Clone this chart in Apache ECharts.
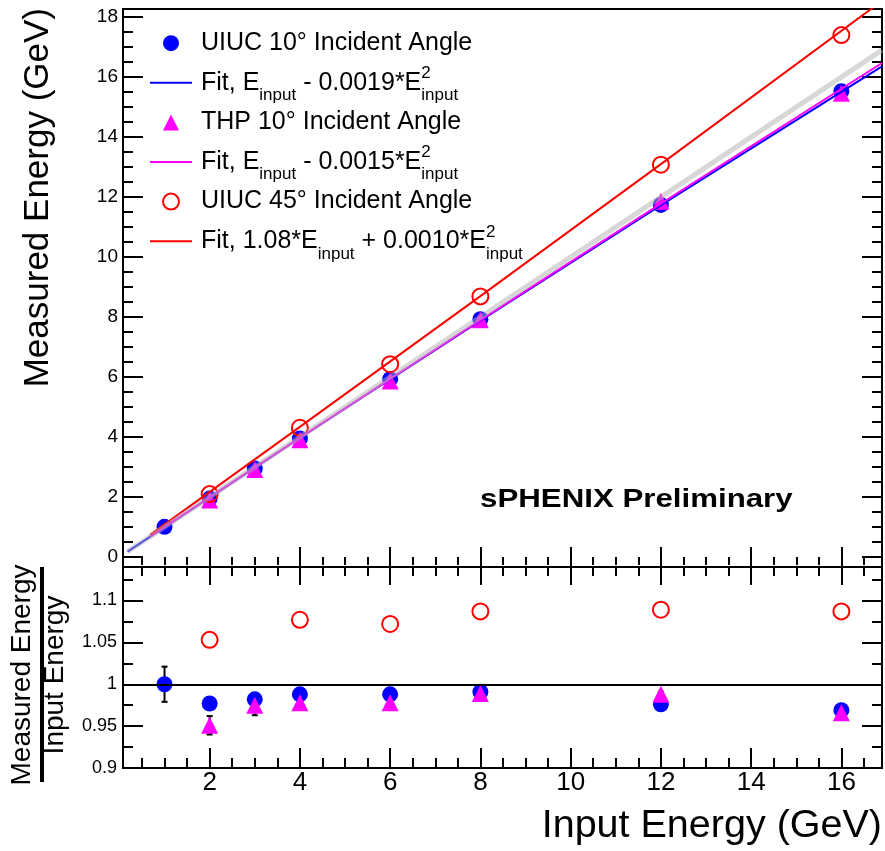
<!DOCTYPE html>
<html><head><meta charset="utf-8">
<script src="https://cdn.jsdelivr.net/npm/echarts@6/dist/echarts.min.js"></script>
<style>html,body{margin:0;padding:0;background:#fff}#c{width:885px;height:851px}</style>
</head><body><div id="c"></div>
<script>
// ---------------- data ----------------
const uiuc10Energies = [1, 2, 3, 4, 6, 8, 12, 16];
const uiuc10Measured = [1.01, 1.95, 2.95, 3.95, 5.93, 7.93, 11.74, 15.53];
const thpEnergies = [2, 3, 4, 6, 8, 12, 16];
const thpMeasured = [1.90, 2.92, 3.91, 5.87, 7.91, 11.86, 15.46];
const uiuc45Energies = [2, 4, 6, 8, 12, 16];
const uiuc45Measured = [2.10, 4.31, 6.43, 8.69, 13.08, 17.40];

const uiuc10Ratio = [1.000, 0.977, 0.982, 0.988, 0.988, 0.991, 0.976, 0.969];
const uiuc10RatioErr = [0.021, 0.004, 0.004, 0.003, 0.003, 0.003, 0.003, 0.003];
const thpRatio = [0.951, 0.975, 0.978, 0.978, 0.989, 0.988, 0.966];
const thpRatioErr = [0.011, 0.012, 0.004, 0.003, 0.003, 0.003, 0.003];
const uiuc45Ratio = [1.053, 1.077, 1.072, 1.087, 1.089, 1.087];

// fit curves and the diagonal
const fit10X = [0.18, 4, 8, 12, 16.9];
const fit10Y = [0.18, 3.97, 7.88, 11.73, 16.36];
const fitThpX = [0.68, 4, 8, 12, 16.9];
const fitThpY = [0.68, 3.98, 7.90, 11.78, 16.47];
const fit45X = [0.68, 4, 8, 12, 16.9];
const fit45Y = [0.74, 4.34, 8.70, 13.10, 18.54];
const diagX = [0.18, 16.9];
const diagY = [0.18, 16.9];
const unityRatio = 1;

// axis ranges
const X_MIN = 0.08, X_MAX = 16.9;
const Y1_MIN = -0.33, Y1_MAX = 18.27;
const Y2_MIN = 0.9, Y2_MAX = 1.14;

// names
const N_U10 = 'UIUC 10° Incident Angle';
const N_F10 = 'Fit, E_input - 0.0019*E_input^2';
const N_THP = 'THP 10° Incident Angle';
const N_FTHP = 'Fit, E_input - 0.0015*E_input^2';
const N_U45 = 'UIUC 45° Incident Angle';
const N_F45 = 'Fit, 1.08*E_input + 0.0010*E_input^2';

const legendLabels = {};
legendLabels[N_U10] = '{p|UIUC 10° Incident Angle}';
legendLabels[N_F10] = '{p|Fit, E}{s|input}{m| - 0.0019*E}{u|2}{s|input}';
legendLabels[N_THP] = '{p|THP 10° Incident Angle}';
legendLabels[N_FTHP] = '{p|Fit, E}{s|input}{m| - 0.0015*E}{u|2}{s|input}';
legendLabels[N_U45] = '{p|UIUC 45° Incident Angle}';
legendLabels[N_F45] = '{p|Fit, 1.08*E}{s|input}{m| + 0.0010*E}{u|2}{s|input}';

// ---------------- helpers ----------------
const FONT = '"Liberation Sans", Arial, Helvetica, sans-serif';
const pts = (xs, ys) => xs.map((x, i) => [x, ys[i]]);
const errPts = (xs, ys, es) => xs.map((x, i) => [x, ys[i] - es[i], ys[i] + es[i]]);

function tick(len, show) {
  return {show: show !== false, inside: true, length: len, lineStyle: {color: '#000', width: 2}};
}
function baseAxis(extra) {
  return Object.assign({
    type: 'value', axisLine: {show: false}, splitLine: {show: false},
    axisLabel: {show: false}, nameMoveOverlap: false
  }, extra);
}
function xMajor(grid, pos, len, labels) {
  return baseAxis({
    gridIndex: grid, position: pos, min: X_MIN, max: X_MAX,
    splitNumber: 8, minInterval: 2, maxInterval: 2,
    axisTick: tick(len),
    axisLabel: labels ? {show: true, margin: 2, fontSize: 26, color: '#000', fontFamily: FONT,
      showMinLabel: false, showMaxLabel: false} : {show: false}
  });
}
function xMinor(grid, pos, len) {
  return baseAxis({
    gridIndex: grid, position: pos, min: X_MIN, max: X_MAX,
    splitNumber: 34, minInterval: 0.5, maxInterval: 0.5,
    axisTick: tick(len, len > 0)
  });
}

const gridBox1 = {left: 123, right: 3, top: 9, height: 558};
const gridBox2 = {left: 123, right: 3, top: 567, height: 201};

function errRender(params, api) {
  const x = api.value(0), lo = api.value(1), hi = api.value(2);
  const a = api.coord([x, hi]), b = api.coord([x, lo]);
  const cap = 3;
  const st = {stroke: '#000', lineWidth: 2};
  return {type: 'group', children: [
    {type: 'line', shape: {x1: a[0], y1: a[1], x2: b[0], y2: b[1]}, style: st},
    {type: 'line', shape: {x1: a[0] - cap, y1: a[1], x2: a[0] + cap, y2: a[1]}, style: st},
    {type: 'line', shape: {x1: b[0] - cap, y1: b[1], x2: b[0] + cap, y2: b[1]}, style: st}
  ]};
}

const RICH = {
  p: {fontSize: 25, fontFamily: FONT, color: '#000', lineHeight: 39.3, padding: [0, 0, 0, 4]},
  m: {fontSize: 25, fontFamily: FONT, color: '#000', lineHeight: 39.3},
  s: {fontSize: 17, fontFamily: FONT, color: '#000', lineHeight: 39.3, padding: [25.6, 0, 0, 0]},
  u: {fontSize: 17, fontFamily: FONT, color: '#000', lineHeight: 39.3, padding: [0, 0, 18.4, 0], width: 0}
};

const LINE_ICON = 'path://M0,0H42V2H0Z';
const TRI_ICON = 'path://M8,0L16,16L0,16Z';

const chart = echarts.init(document.getElementById('c'), null, {renderer: 'canvas'});
const option = {
  animation: false,
  backgroundColor: '#fff',
  grid: [
    Object.assign({show: true, borderColor: '#000', borderWidth: 2, backgroundColor: 'rgba(0,0,0,0)', containLabel: false, outerBoundsMode: 'none'}, gridBox1),
    Object.assign({show: false, containLabel: false, outerBoundsMode: 'none'}, gridBox1),
    Object.assign({show: true, borderColor: '#000', borderWidth: 2, backgroundColor: 'rgba(0,0,0,0)', containLabel: false, outerBoundsMode: 'none'}, gridBox2),
    Object.assign({show: false, containLabel: false, outerBoundsMode: 'none'}, gridBox2)
  ],
  xAxis: [
    xMajor(0, 'bottom', 10, false),
    xMajor(0, 'top', 16, false),
    xMinor(1, 'bottom', 0),
    xMinor(1, 'top', 8),
    Object.assign(xMajor(2, 'bottom', 20, true), {
      name: 'Input Energy (GeV)', nameLocation: 'end', nameGap: 0,
      nameTextStyle: {fontSize: 39.5, fontFamily: FONT, color: '#000', align: 'right', verticalAlign: 'top', padding: [38, 0, 0, 0]}
    }),
    xMajor(2, 'top', 18, false),
    xMinor(3, 'bottom', 10),
    xMinor(3, 'top', 9)
  ],
  yAxis: [
    baseAxis({gridIndex: 0, position: 'left', min: Y1_MIN, max: Y1_MAX, splitNumber: 9, minInterval: 2, maxInterval: 2,
      axisTick: tick(20),
      axisLabel: {show: true, margin: 5, fontSize: 19, color: '#000', fontFamily: FONT, showMinLabel: false, showMaxLabel: false},
      name: 'Measured Energy (GeV)', nameLocation: 'end', nameGap: 1, nameRotate: 90,
      nameTextStyle: {fontSize: 35, fontFamily: FONT, color: '#000', align: 'right', verticalAlign: 'bottom', padding: [0, 0, 67.6, 0]}
    }),
    baseAxis({gridIndex: 0, position: 'right', min: Y1_MIN, max: Y1_MAX, splitNumber: 9, minInterval: 2, maxInterval: 2, axisTick: tick(20)}),
    baseAxis({gridIndex: 1, position: 'left', min: Y1_MIN, max: Y1_MAX, splitNumber: 37, minInterval: 0.5, maxInterval: 0.5, axisTick: tick(10)}),
    baseAxis({gridIndex: 1, position: 'right', min: Y1_MIN, max: Y1_MAX, splitNumber: 37, minInterval: 0.5, maxInterval: 0.5, axisTick: tick(10)}),
    baseAxis({gridIndex: 2, position: 'left', min: Y2_MIN, max: Y2_MAX, interval: 0.05,
      axisTick: tick(20),
      axisLabel: {show: true, margin: 6, fontSize: 18, color: '#000', fontFamily: FONT, showMinLabel: true, showMaxLabel: false}
    }),
    baseAxis({gridIndex: 2, position: 'right', min: Y2_MIN, max: Y2_MAX, interval: 0.05, axisTick: tick(20)}),
    baseAxis({gridIndex: 3, position: 'left', min: Y2_MIN, max: Y2_MAX, interval: 0.025, axisTick: tick(10)}),
    baseAxis({gridIndex: 3, position: 'right', min: Y2_MIN, max: Y2_MAX, interval: 0.025, axisTick: tick(10)})
  ],
  legend: {
    orient: 'vertical', left: 150, top: 30.7, padding: 0, itemGap: 5.8,
    itemWidth: 42, itemHeight: 16, selectedMode: false, symbolKeepAspect: true,
    data: [
      {name: N_U10},
      {name: N_F10, icon: LINE_ICON, itemStyle: {color: '#0000ff', borderWidth: 0}},
      {name: N_THP, icon: TRI_ICON, itemStyle: {color: '#ff00ff', borderWidth: 0}},
      {name: N_FTHP, icon: LINE_ICON, itemStyle: {color: '#ff00ff', borderWidth: 0}},
      {name: N_U45},
      {name: N_F45, icon: LINE_ICON, itemStyle: {color: '#ff0000', borderWidth: 0}}
    ],
    formatter: name => legendLabels[name],
    textStyle: {color: '#000', fontFamily: FONT, fontSize: 25, rich: RICH}
  },
  graphic: [
    {type: 'text', x: 480, y: 500, scaleX: 1.25, z: 100,
      style: {text: 'sPHENIX Preliminary', font: 'bold 25px ' + FONT, fill: '#000', align: 'left', verticalAlign: 'middle'}},
    {type: 'text', x: 22.5, y: 675, rotation: Math.PI / 2, z: 100,
      style: {text: 'Measured Energy', font: '28px ' + FONT, fill: '#000', align: 'center', verticalAlign: 'middle'}},
    {type: 'text', x: 55, y: 675, rotation: Math.PI / 2, z: 100,
      style: {text: 'Input Energy', font: '28px ' + FONT, fill: '#000', align: 'center', verticalAlign: 'middle'}},
    {type: 'rect', shape: {x: 40, y: 567, width: 4, height: 215}, style: {fill: '#000'}, z: 100}
  ],
  series: [
    {name: N_F10, type: 'line', xAxisIndex: 0, yAxisIndex: 0, data: pts(fit10X, fit10Y), symbol: 'none',
      lineStyle: {color: '#0000ff', width: 2}, itemStyle: {color: '#0000ff'}},
    {name: N_FTHP, type: 'line', xAxisIndex: 0, yAxisIndex: 0, data: pts(fitThpX, fitThpY), symbol: 'none',
      lineStyle: {color: '#ff00ff', width: 2}, itemStyle: {color: '#ff00ff'}},
    {name: N_F45, type: 'line', xAxisIndex: 0, yAxisIndex: 0, data: pts(fit45X, fit45Y), symbol: 'none',
      lineStyle: {color: '#ff0000', width: 2}, itemStyle: {color: '#ff0000'}},
    {name: 'diagonal', type: 'line', xAxisIndex: 0, yAxisIndex: 0, data: pts(diagX, diagY), symbol: 'none',
      lineStyle: {color: '#b0b0b0', width: 5, opacity: 0.5}},
    {name: N_U10, type: 'scatter', xAxisIndex: 0, yAxisIndex: 0, data: pts(uiuc10Energies, uiuc10Measured),
      symbol: 'circle', symbolSize: 16, itemStyle: {color: '#0000ff', opacity: 1}},
    {name: N_THP, type: 'scatter', xAxisIndex: 0, yAxisIndex: 0, data: pts(thpEnergies, thpMeasured),
      symbol: 'triangle', symbolSize: 17, itemStyle: {color: '#ff00ff', opacity: 1}},
    {name: N_U45, type: 'scatter', xAxisIndex: 0, yAxisIndex: 0, data: pts(uiuc45Energies, uiuc45Measured),
      symbol: 'circle', symbolSize: 16, itemStyle: {color: 'rgba(255,255,255,0)', borderColor: '#ff0000', borderWidth: 2, opacity: 1}},

    {name: 'err10', type: 'custom', xAxisIndex: 4, yAxisIndex: 4, renderItem: errRender,
      data: errPts(uiuc10Energies, uiuc10Ratio, uiuc10RatioErr), encode: {x: 0, y: [1, 2]}},
    {name: N_U10, type: 'scatter', xAxisIndex: 4, yAxisIndex: 4, data: pts(uiuc10Energies, uiuc10Ratio),
      symbol: 'circle', symbolSize: 16, itemStyle: {color: '#0000ff', opacity: 1},
      markLine: {silent: true, symbol: 'none', label: {show: false}, animation: false,
        lineStyle: {color: '#000', width: 2, type: 'solid'}, emphasis: {disabled: true},
        data: [{yAxis: unityRatio}]}},
    {name: 'errThp', type: 'custom', xAxisIndex: 4, yAxisIndex: 4, renderItem: errRender,
      data: errPts(thpEnergies, thpRatio, thpRatioErr), encode: {x: 0, y: [1, 2]}},
    {name: N_THP, type: 'scatter', xAxisIndex: 4, yAxisIndex: 4, data: pts(thpEnergies, thpRatio),
      symbol: 'triangle', symbolSize: 17, itemStyle: {color: '#ff00ff', opacity: 1}},
    {name: N_U45, type: 'scatter', xAxisIndex: 4, yAxisIndex: 4, data: pts(uiuc45Energies, uiuc45Ratio),
      symbol: 'circle', symbolSize: 16, itemStyle: {color: 'rgba(255,255,255,0)', borderColor: '#ff0000', borderWidth: 2, opacity: 1}}
  ]
};
chart.setOption(option);
</script>
</body></html>
